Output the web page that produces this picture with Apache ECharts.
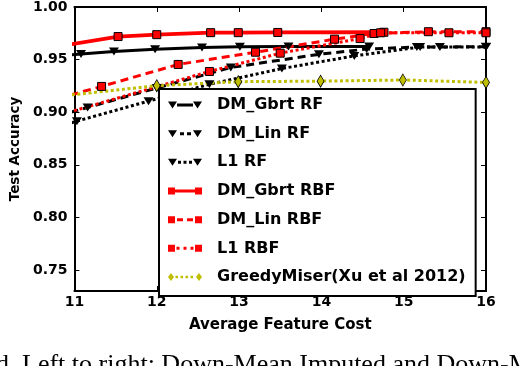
<!DOCTYPE html>
<html><head><meta charset="utf-8">
<script src="https://cdn.jsdelivr.net/npm/echarts@6/dist/echarts.min.js"></script>
<style>html,body{margin:0;padding:0;background:#fff}#c{width:520px;height:366px}</style>
</head><body><div id="c"></div>
<script>
// ---- data ----
const seriesNames = ['DM_Gbrt RF', 'DM_Lin RF', 'L1 RF', 'DM_Gbrt RBF', 'DM_Lin RBF', 'L1 RBF', 'GreedyMiser(Xu et al 2012)'];
const xTicks = [11, 12, 13, 14, 15, 16];
const yTicks = [0.75, 0.80, 0.85, 0.90, 0.95, 1.00];
const yRange = [0.73, 1.00];

const gbrtRF_x = [10.85, 11.08, 11.48, 11.98, 12.55, 13.01, 13.6, 14.58];
const gbrtRF_y = [0.9538, 0.9553, 0.9577, 0.9598, 0.9616, 0.9622, 0.9625, 0.9625];

const linRF_x = [10.8, 11.16, 12.0, 12.9, 13.97, 14.55, 15.16, 15.44, 16.0];
const linRF_y = [0.8965, 0.9045, 0.9230, 0.9425, 0.9550, 0.9600, 0.9620, 0.9620, 0.9622];

const l1RF_x = [10.9, 11.03, 11.9, 12.64, 13.52, 14.4, 15.2, 16.0];
const l1RF_y = [0.8885, 0.8915, 0.9105, 0.9265, 0.9415, 0.9535, 0.9620, 0.9620];

const gbrtRBF_x = [10.8, 11.53, 12.0, 12.655, 12.99, 13.47, 14.76];
const gbrtRBF_y = [0.9625, 0.9719, 0.9737, 0.9756, 0.9756, 0.9758, 0.9760];

const linRBF_x = [10.8, 11.33, 12.26, 13.2, 14.16, 14.64, 15.3, 16.0];
const linRBF_y = [0.9130, 0.9245, 0.9454, 0.9570, 0.9694, 0.9748, 0.9765, 0.9765];

const l1RBF_x = [10.8, 12.64, 13.5, 14.47, 14.72, 15.55, 16.0];
const l1RBF_y = [0.8970, 0.9387, 0.9561, 0.9700, 0.9755, 0.9755, 0.9755];

const greedy_x = [10.9, 12.0, 12.99, 13.99, 14.99, 16.0];
const greedy_y = [0.9159, 0.9252, 0.9290, 0.9295, 0.9306, 0.9283];

const captionText = 'd. Left to right: Down-Mean Imputed and Down-Mean';

// ---- chart ----
const pairs = (xs, ys) => xs.map((x, i) => [x, ys[i]]);
const RED = '#ff0000', BLACK = '#000000', YEL = '#bfbf00';
const DASH = [8, 5], DOT = [3, 2.6];

function mk(name, xs, ys, color, lt, lw, symbol, size, rot, fill, bw) {
  return {
    type: 'line', name: name, data: pairs(xs, ys), clip: true,
    showSymbol: true, symbol: symbol, symbolSize: size, symbolRotate: rot,
    lineStyle: { color: color, width: lw, type: lt, cap: 'butt' },
    itemStyle: { color: fill, borderColor: '#000', borderWidth: bw, opacity: 1 },
    emphasis: { disabled: true }
  };
}

const series = [
  mk(seriesNames[0], gbrtRF_x, gbrtRF_y, BLACK, 'solid', 3, 'triangle', [10, 8], 180, BLACK, 0),
  mk(seriesNames[1], linRF_x, linRF_y, BLACK, DASH, 3, 'triangle', [10, 8], 180, BLACK, 0),
  mk(seriesNames[2], l1RF_x, l1RF_y, BLACK, DOT, 3, 'triangle', [10, 8], 180, BLACK, 0),
  mk(seriesNames[3], gbrtRBF_x, gbrtRBF_y, RED, 'solid', 3.8, 'rect', 8, 0, RED, 1),
  mk(seriesNames[4], linRBF_x, linRBF_y, RED, DASH, 3, 'rect', 8, 0, RED, 1),
  mk(seriesNames[5], l1RBF_x, l1RBF_y, RED, DOT, 3, 'rect', 8, 0, RED, 1),
  mk(seriesNames[6], greedy_x, greedy_y, YEL, DOT, 3, 'diamond', [7, 12], 0, YEL, 0.8)
];

// legend glyphs: a marker at each end of a short line sample (34 x 8 box)
const TRI = 'M0,0.5h9l-4.5,7zM25,0.5h9l-4.5,7z';
const SQ = 'M0,0.5h7v7h-7zM27,0.5h7v7h-7z';
const DIA = 'M3,0l3,4l-3,4l-3,-4zM31,0l3,4l-3,4l-3,-4z';
const legendIcons = [
  'path://' + TRI + 'M9,2.5h16v3h-16z',
  'path://' + TRI + 'M12,2.5h4v3h-4zM19,2.5h4v3h-4z',
  'path://' + TRI + 'M10,2.5h3v3h-3zM15.5,2.5h3v3h-3zM21,2.5h3v3h-3z',
  'path://' + SQ + 'M7,2.5h20v3h-20z',
  'path://' + SQ + 'M9,2.5h6v3h-6zM19,2.5h6v3h-6z',
  'path://' + SQ + 'M8.5,2.5h3v3h-3zM15.5,2.5h3v3h-3zM22.5,2.5h3v3h-3z',
  'path://' + DIA + 'M7.5,2.8h2.6v2.4h-2.6zM12.5,2.8h2.6v2.4h-2.6zM17.5,2.8h2.6v2.4h-2.6zM22.5,2.8h2.6v2.4h-2.6z'
];

const axisLine = { show: true, onZero: false, lineStyle: { color: '#000', width: 2 } };
const tick = { show: true, inside: true, length: 5, lineStyle: { color: '#000', width: 1 } };
const lblStyle = { color: '#000', fontFamily: 'DejaVu Sans', fontWeight: 'bold', fontSize: 14 };

const option = {
  animation: false,
  backgroundColor: '#fff',
  grid: { left: 61, right: 34, top: 6, bottom: 75, containLabel: false },
  xAxis: [
    { type: 'value', position: 'bottom', min: xTicks[0], max: xTicks[xTicks.length - 1], interval: 1,
      axisLine: axisLine, axisTick: tick, splitLine: { show: false },
      axisLabel: Object.assign({ margin: 4, formatter: v => String(v) }, lblStyle),
      name: 'Average Feature Cost', nameLocation: 'middle', nameGap: 27,
      nameTextStyle: { color: '#000', fontFamily: 'DejaVu Sans', fontWeight: 'bold', fontSize: 15 } },
    { type: 'value', position: 'top', min: xTicks[0], max: xTicks[xTicks.length - 1], interval: 1,
      axisLine: axisLine, axisTick: tick, splitLine: { show: false }, axisLabel: { show: false } }
  ],
  yAxis: [
    { type: 'value', position: 'left', min: yRange[0], max: yRange[1],
      axisLine: axisLine, axisTick: Object.assign({ customValues: yTicks }, tick), splitLine: { show: false },
      axisLabel: Object.assign({ margin: 7, customValues: yTicks, formatter: v => v.toFixed(2) }, lblStyle),
      name: 'Test Accuracy', nameLocation: 'middle', nameGap: 47,
      nameTextStyle: { color: '#000', fontFamily: 'DejaVu Sans', fontWeight: 'bold', fontSize: 13.5 } },
    { type: 'value', position: 'right', min: yRange[0], max: yRange[1],
      axisLine: axisLine, axisTick: Object.assign({ customValues: yTicks }, tick), splitLine: { show: false },
      axisLabel: { show: false } }
  ],
  legend: {
    orient: 'vertical', left: 159, top: 89, padding: [8, 10, 11, 9],
    itemWidth: 34, itemHeight: 14, itemGap: 12.67,
    backgroundColor: '#fff', borderColor: '#000', borderWidth: 2, borderRadius: 0,
    selectedMode: false,
    itemStyle: { borderWidth: 0 },
    data: seriesNames.map((n, i) => ({ name: n, icon: legendIcons[i] })),
    textStyle: { color: '#000', fontFamily: 'DejaVu Sans', fontWeight: 'bold', fontSize: 16, padding: [0, 0, 0, 10] }
  },
  graphic: [
    { type: 'text', left: -4, top: 352, silent: true,
      style: { text: captionText, font: '26px "Liberation Serif"', fill: '#000' } }
  ],
  series: series
};

const chart = echarts.init(document.getElementById('c'), null, { renderer: 'canvas' });
chart.setOption(option);
</script>
</body></html>
